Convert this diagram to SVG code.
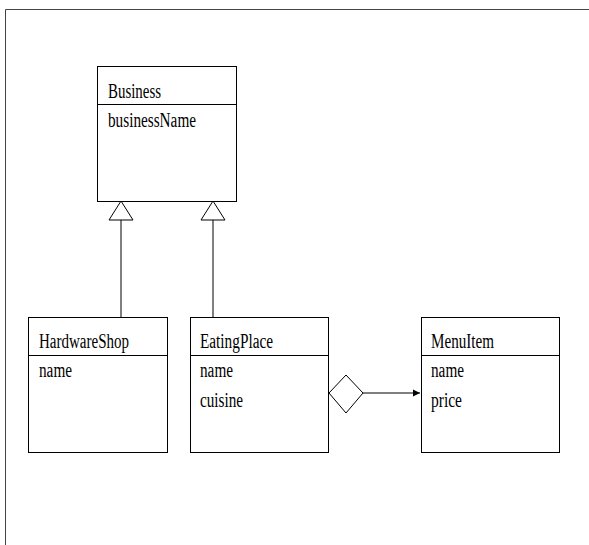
<svg xmlns="http://www.w3.org/2000/svg" width="589" height="545" viewBox="0 0 589 545">
<style>
.box{fill:#fff;stroke:#000;stroke-width:1}
.t{font-family:"Liberation Serif","Times New Roman",serif;font-size:20px;fill:#000}
.ln{stroke:#000;stroke-width:1;fill:none}
</style>
<defs>
<marker id="arr" markerWidth="8" markerHeight="8" refX="7" refY="4" orient="auto" markerUnits="userSpaceOnUse">
<path d="M0,0.5 L7,4 L0,7.5 Z" fill="#000"/>
</marker>
</defs>
<rect width="589" height="545" fill="#fff"/>
<path d="M5.5,545 V9.5 H589" fill="none" stroke="#444" stroke-width="1"/>
<g id="connectors">
<line class="ln" x1="121" y1="220" x2="121" y2="317"/>
<polygon points="121,201 109,220 133,220" fill="#fff" stroke="#000"/>
<line class="ln" x1="213" y1="220" x2="213" y2="317"/>
<polygon points="213,201 201,220 225,220" fill="#fff" stroke="#000"/>
<polygon points="329,393 346,375 363,393 346,413" fill="#fff" stroke="#000"/>
<line class="ln" x1="363" y1="393" x2="420" y2="393" marker-end="url(#arr)"/>
</g>
<g id="Business">
<rect class="box" x="97.5" y="66.5" width="139" height="135"/>
<line class="ln" x1="97.5" y1="104.5" x2="236.5" y2="104.5"/>
<text class="t" x="108" y="98" textLength="53" lengthAdjust="spacingAndGlyphs">Business</text>
<text class="t" x="108" y="127" textLength="88" lengthAdjust="spacingAndGlyphs">businessName</text>
</g>
<g id="HardwareShop">
<rect class="box" x="28.5" y="317.5" width="139" height="135"/>
<line class="ln" x1="28.5" y1="355.5" x2="167.5" y2="355.5"/>
<text class="t" x="39" y="348" textLength="90" lengthAdjust="spacingAndGlyphs">HardwareShop</text>
<text class="t" x="39" y="377" textLength="33" lengthAdjust="spacingAndGlyphs">name</text>
</g>
<g id="EatingPlace">
<rect class="box" x="190.5" y="317.5" width="138" height="135"/>
<line class="ln" x1="190.5" y1="355.5" x2="328.5" y2="355.5"/>
<text class="t" x="200" y="348" textLength="73" lengthAdjust="spacingAndGlyphs">EatingPlace</text>
<text class="t" x="200" y="377" textLength="33" lengthAdjust="spacingAndGlyphs">name</text>
<text class="t" x="200" y="407" textLength="43" lengthAdjust="spacingAndGlyphs">cuisine</text>
</g>
<g id="MenuItem">
<rect class="box" x="421.5" y="317.5" width="138" height="135"/>
<line class="ln" x1="421.5" y1="355.5" x2="559.5" y2="355.5"/>
<text class="t" x="431" y="348" textLength="63" lengthAdjust="spacingAndGlyphs">MenuItem</text>
<text class="t" x="431" y="377" textLength="33" lengthAdjust="spacingAndGlyphs">name</text>
<text class="t" x="431" y="407" textLength="31" lengthAdjust="spacingAndGlyphs">price</text>
</g>
</svg>
